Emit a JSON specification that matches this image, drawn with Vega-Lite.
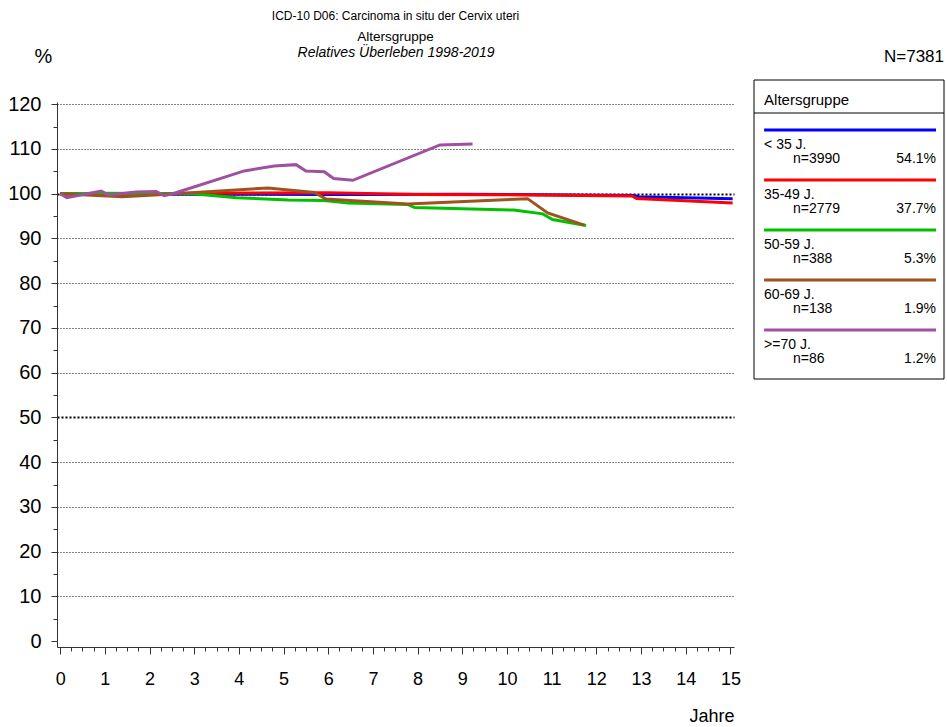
{
  "$schema": "https://vega.github.io/schema/vega-lite/v6.json",
  "padding": {"left": 7, "top": 9, "right": 3, "bottom": 5},
  "background": "white",
  "config": {
    "view": {"stroke": null},
    "font": "Liberation Sans",
    "concat": {"spacing": 12}
  },
  "datasets": {
    "curves": [
      {"group": "< 35 J.", "t": 0, "v": 100},
      {"group": "< 35 J.", "t": 3, "v": 99.9},
      {"group": "< 35 J.", "t": 6, "v": 99.85},
      {"group": "< 35 J.", "t": 9, "v": 99.9},
      {"group": "< 35 J.", "t": 12.85, "v": 99.6},
      {"group": "< 35 J.", "t": 12.95, "v": 99.35},
      {"group": "< 35 J.", "t": 15.05, "v": 98.9},
      {"group": "35-49 J.", "t": 0, "v": 100},
      {"group": "35-49 J.", "t": 1, "v": 99.9},
      {"group": "35-49 J.", "t": 3, "v": 100.1},
      {"group": "35-49 J.", "t": 6, "v": 100.2},
      {"group": "35-49 J.", "t": 8, "v": 99.8},
      {"group": "35-49 J.", "t": 10, "v": 99.75},
      {"group": "35-49 J.", "t": 12.8, "v": 99.5},
      {"group": "35-49 J.", "t": 12.9, "v": 98.95},
      {"group": "35-49 J.", "t": 15.05, "v": 97.95},
      {"group": "50-59 J.", "t": 0, "v": 100},
      {"group": "50-59 J.", "t": 1, "v": 100.1},
      {"group": "50-59 J.", "t": 2.97, "v": 100},
      {"group": "50-59 J.", "t": 3.95, "v": 99.1},
      {"group": "50-59 J.", "t": 5.1, "v": 98.6},
      {"group": "50-59 J.", "t": 5.9, "v": 98.5},
      {"group": "50-59 J.", "t": 6.45, "v": 97.9},
      {"group": "50-59 J.", "t": 7.78, "v": 97.6},
      {"group": "50-59 J.", "t": 7.93, "v": 96.9},
      {"group": "50-59 J.", "t": 10.15, "v": 96.35},
      {"group": "50-59 J.", "t": 10.8, "v": 95.5},
      {"group": "50-59 J.", "t": 11.02, "v": 94.25},
      {"group": "50-59 J.", "t": 11.77, "v": 92.9},
      {"group": "60-69 J.", "t": 0, "v": 100},
      {"group": "60-69 J.", "t": 1.4, "v": 99.3},
      {"group": "60-69 J.", "t": 2.3, "v": 99.85},
      {"group": "60-69 J.", "t": 4.65, "v": 101.3},
      {"group": "60-69 J.", "t": 5.69, "v": 100.3},
      {"group": "60-69 J.", "t": 5.95, "v": 98.8},
      {"group": "60-69 J.", "t": 7.78, "v": 97.7},
      {"group": "60-69 J.", "t": 10.46, "v": 98.9},
      {"group": "60-69 J.", "t": 10.91, "v": 95.7},
      {"group": "60-69 J.", "t": 11.73, "v": 93.0},
      {"group": ">=70 J.", "t": 0, "v": 100},
      {"group": ">=70 J.", "t": 0.15, "v": 99.1},
      {"group": ">=70 J.", "t": 0.92, "v": 100.6},
      {"group": ">=70 J.", "t": 1.08, "v": 99.7},
      {"group": ">=70 J.", "t": 1.7, "v": 100.4},
      {"group": ">=70 J.", "t": 2.15, "v": 100.5},
      {"group": ">=70 J.", "t": 2.33, "v": 99.55},
      {"group": ">=70 J.", "t": 2.52, "v": 100},
      {"group": ">=70 J.", "t": 4.12, "v": 105.1},
      {"group": ">=70 J.", "t": 4.79, "v": 106.2},
      {"group": ">=70 J.", "t": 5.28, "v": 106.5},
      {"group": ">=70 J.", "t": 5.5, "v": 105.1},
      {"group": ">=70 J.", "t": 5.91, "v": 104.9},
      {"group": ">=70 J.", "t": 6.12, "v": 103.4},
      {"group": ">=70 J.", "t": 6.55, "v": 103.0},
      {"group": ">=70 J.", "t": 8.5, "v": 110.9},
      {"group": ">=70 J.", "t": 9.23, "v": 111.1}
    ],
    "legend": [
      {"group": "< 35 J.", "n": "n=3990", "pct": "54.1%", "order": 1},
      {"group": "35-49 J.", "n": "n=2779", "pct": "37.7%", "order": 2},
      {"group": "50-59 J.", "n": "n=388", "pct": "5.3%", "order": 3},
      {"group": "60-69 J.", "n": "n=138", "pct": "1.9%", "order": 4},
      {"group": ">=70 J.", "n": "n=86", "pct": "1.2%", "order": 5}
    ]
  },
  "hconcat": [
    {
      "width": 677,
      "height": 545,
      "title": {
        "text": "ICD-10 D06: Carcinoma in situ der Cervix uteri",
        "subtitle": "Altersgruppe",
        "fontSize": 12,
        "fontWeight": "normal",
        "color": "black",
        "subtitleFontSize": 13.5,
        "subtitleColor": "black",
        "subtitlePadding": 7,
        "anchor": "middle",
        "frame": "group",
        "offset": 1
      },
      "resolve": {"axis": {"x": "independent", "y": "independent"}},
      "layer": [
        {
          "data": {"name": "curves"},
          "mark": {"type": "line", "strokeWidth": 3},
          "encoding": {
            "x": {
              "field": "t",
              "type": "quantitative",
              "scale": {"domain": [-0.07, 15.08], "nice": false, "zero": false},
              "axis": {
                "values": [0,0.25,0.5,0.75,1,1.25,1.5,1.75,2,2.25,2.5,2.75,3,3.25,3.5,3.75,4,4.25,4.5,4.75,5,5.25,5.5,5.75,6,6.25,6.5,6.75,7,7.25,7.5,7.75,8,8.25,8.5,8.75,9,9.25,9.5,9.75,10,10.25,10.5,10.75,11,11.25,11.5,11.75,12,12.25,12.5,12.75,13,13.25,13.5,13.75,14,14.25,14.5,14.75,15],
                "title": "Jahre",
                "titleX": 677,
                "titleY": 69,
                "titleAlign": "right",
                "titleBaseline": "middle",
                "titleFontSize": 18,
                "titleFontWeight": "normal",
                "titleColor": "black",
                "labelExpr": "datum.value % 1 === 0 ? format(datum.value, 'd') : ''",
                "labelFontSize": 18,
                "labelColor": "black",
                "labelPadding": 16,
                "labelOverlap": false,
                "labelFlush": false,
                "labelBound": false,
                "tickSize": {"condition": {"test": "datum.value % 1 === 0", "value": 7}, "value": 4},
                "tickColor": "#333333",
                "domainColor": "#333333",
                "grid": false
              }
            },
            "y": {
              "field": "v",
              "type": "quantitative",
              "scale": {"domain": [-1.3, 120.5], "nice": false, "zero": false},
              "axis": {
                "values": [0,5,10,15,20,25,30,35,40,45,50,55,60,65,70,75,80,85,90,95,100,105,110,115,120],
                "title": "%",
                "titleAngle": 0,
                "titleX": -14,
                "titleY": -46,
                "titleAlign": "center",
                "titleBaseline": "middle",
                "titleFontSize": 20,
                "titleFontWeight": "normal",
                "titleColor": "black",
                "labelExpr": "datum.value % 10 === 0 ? datum.label : ''",
                "labelFontSize": 20,
                "labelColor": "black",
                "labelPadding": 10,
                "labelOverlap": false,
                "tickSize": {"condition": {"test": "datum.value % 10 === 0", "value": 6}, "value": 4},
                "tickColor": "#333333",
                "domainColor": "#333333",
                "grid": true,
                "gridColor": "black",
                "gridOpacity": {"condition": {"test": "datum.value % 10 !== 0 || datum.value === 0", "value": 0}, "value": 1},
                "gridDash": {"condition": {"test": "datum.value === 50 || datum.value === 100", "value": [2, 2]}, "value": [1, 2]},
                "gridWidth": {"condition": {"test": "datum.value === 50 || datum.value === 100", "value": 2}, "value": 1}
              }
            },
            "color": {
              "field": "group",
              "type": "nominal",
              "scale": {
                "domain": ["< 35 J.", "35-49 J.", "50-59 J.", "60-69 J.", ">=70 J."],
                "range": ["#0000FF", "#FF0000", "#00C000", "#A0521E", "#A050A0"]
              },
              "legend": null
            }
          }
        },
        {
          "data": {"name": "curves"},
          "mark": {"type": "point", "opacity": 0},
          "encoding": {
            "x": {
              "field": "t",
              "type": "quantitative",
              "axis": {
                "orient": "top",
                "title": "Relatives Überleben 1998-2019",
                "titleFontStyle": "italic",
                "titleFontSize": 14,
                "titleFontWeight": "normal",
                "titleColor": "black",
                "titleX": 338.5,
                "titleY": -50,
                "titleAlign": "center",
                "titleBaseline": "middle",
                "labels": false,
                "ticks": false,
                "domain": false,
                "grid": false
              }
            },
            "y": {"field": "v", "type": "quantitative", "axis": null}
          }
        }
      ]
    },
    {
      "width": 190,
      "height": 276,
      "layer": [
        {
          "data": {"values": [{}]},
          "mark": {"type": "rect", "fill": "white", "stroke": "black", "strokeWidth": 1},
          "encoding": {
            "x": {"datum": 0, "type": "quantitative", "scale": {"domain": [0, 1], "nice": false, "zero": false}, "axis": null},
            "x2": {"datum": 1},
            "y": {"datum": 0, "type": "quantitative", "scale": {"domain": [0.44, 5.96], "nice": false, "zero": false, "reverse": true}, "axis": null},
            "y2": {"datum": 5.98}
          }
        },
        {
          "data": {"values": [{}]},
          "mark": {"type": "rule", "color": "black", "strokeWidth": 1},
          "encoding": {
            "x": {"datum": 0, "type": "quantitative"},
            "x2": {"datum": 1},
            "y": {"datum": 0.66, "type": "quantitative"}
          }
        },
        {
          "data": {"values": [{"label": "Altersgruppe"}]},
          "mark": {"type": "text", "align": "left", "baseline": "middle", "fontSize": 15, "color": "black"},
          "encoding": {
            "x": {"datum": 0.053, "type": "quantitative"},
            "y": {"datum": 0.4, "type": "quantitative"},
            "text": {"field": "label"}
          }
        },
        {
          "data": {"values": [{"label": "N=7381"}]},
          "mark": {"type": "text", "align": "right", "baseline": "middle", "fontSize": 17, "color": "black"},
          "encoding": {
            "x": {"datum": 1, "type": "quantitative"},
            "y": {"datum": -0.46, "type": "quantitative"},
            "text": {"field": "label"}
          }
        },
        {
          "data": {"name": "legend"},
          "mark": {"type": "rule", "strokeWidth": 3},
          "encoding": {
            "x": {"datum": 0.053, "type": "quantitative"},
            "x2": {"datum": 0.958},
            "y": {"field": "order", "type": "quantitative"},
            "color": {
              "field": "group",
              "type": "nominal",
              "scale": {
                "domain": ["< 35 J.", "35-49 J.", "50-59 J.", "60-69 J.", ">=70 J."],
                "range": ["#0000FF", "#FF0000", "#00C000", "#A0521E", "#A050A0"]
              },
              "legend": null
            }
          }
        },
        {
          "data": {"name": "legend"},
          "mark": {"type": "text", "align": "left", "baseline": "middle", "fontSize": 14, "color": "black", "dy": 14.5},
          "encoding": {
            "x": {"datum": 0.053, "type": "quantitative"},
            "y": {"field": "order", "type": "quantitative"},
            "text": {"field": "group"}
          }
        },
        {
          "data": {"name": "legend"},
          "mark": {"type": "text", "align": "left", "baseline": "middle", "fontSize": 14, "color": "black", "dy": 29},
          "encoding": {
            "x": {"datum": 0.205, "type": "quantitative"},
            "y": {"field": "order", "type": "quantitative"},
            "text": {"field": "n"}
          }
        },
        {
          "data": {"name": "legend"},
          "mark": {"type": "text", "align": "right", "baseline": "middle", "fontSize": 14, "color": "black", "dy": 29},
          "encoding": {
            "x": {"datum": 0.958, "type": "quantitative"},
            "y": {"field": "order", "type": "quantitative"},
            "text": {"field": "pct"}
          }
        }
      ]
    }
  ]
}
